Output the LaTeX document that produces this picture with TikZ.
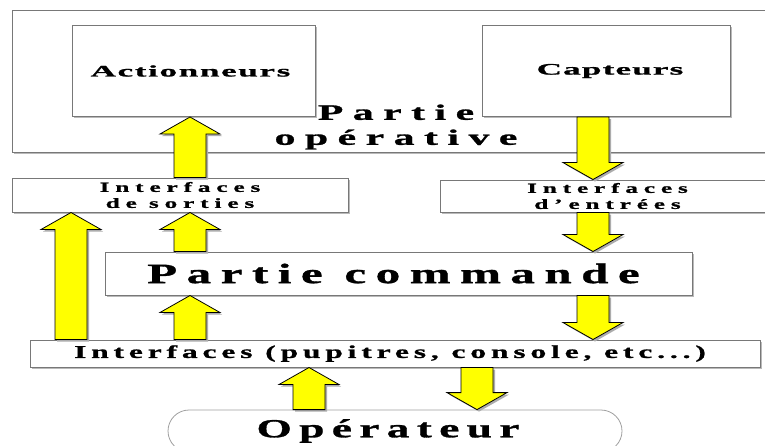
\documentclass[tikz,border=0pt]{standalone}
\usepackage{fontspec}
\setmainfont{Liberation Serif}
\usetikzlibrary{calc,shadows}
\definecolor{boxline}{RGB}{120,120,120}
\definecolor{shadowgray}{RGB}{185,185,185}
\definecolor{arrfill}{RGB}{255,255,0}
\definecolor{opline}{RGB}{160,160,160}
% size, baselineskip, letterspace, stretch
\newcommand{\txtset}[4]{\fontsize{#1}{#2}\selectfont\addfontfeatures{FakeStretch=#4,LetterSpace=#3,FakeBold=1.2}}
\newcommand{\fatpath}[4]{%
  \path[#4] let \p1=(#1), \p2=(#2), \p3=($(#2)!17pt!(#1)$) in
    ({\x1-16pt+#3},{\y1-#3}) -- ({\x1-16pt+#3},{\y3-#3}) -- ({\x1-30pt+#3},{\y3-#3})
    -- ({\x2+#3},{\y2-#3}) -- ({\x1+30pt+#3},{\y3-#3}) -- ({\x1+16pt+#3},{\y3-#3})
    -- ({\x1+16pt+#3},{\y1-#3}) -- cycle;}
\newcommand{\fatarr}[2]{\fatpath{#1}{#2}{2pt}{arrshadow}\fatpath{#1}{#2}{0pt}{arrbody}}
\begin{document}
\begin{tikzpicture}[x=1pt,y=-1pt,
  boxnode/.style={draw=boxline, line width=1pt, fill=white, inner sep=0pt,
    drop shadow={shadow xshift=1.5pt,shadow yshift=-1.5pt,fill=shadowgray,opacity=1}},
  lbl/.style={inner sep=0pt, align=center},
  arrbody/.style={fill=arrfill, draw=black, line width=0.8pt, line join=miter},
  arrshadow/.style={fill=gray!65},
]
\useasboundingbox[fill=white] (0,0) rectangle (765,445);

% Partie operative
\node[boxnode, minimum width=763pt, minimum height=142pt] (pop) at (393.5,81) {};
\node[boxnode, minimum width=243pt, minimum height=91pt, font={\bfseries\txtset{16}{20}{10}{2.2}}] (act) at (193.5,71) {\hspace*{-6pt}Actionneurs};
\node[boxnode, minimum width=248pt, minimum height=91pt, font={\bfseries\txtset{16}{20}{7}{2.2}}] (cap) at (606,71) {\hspace*{8pt}Capteurs};
\node[lbl, font={\bfseries\txtset{22}{25}{43}{1.9}}] (ptxt) at (396,127) {Partie\\opérative};

% interfaces
\node[boxnode, align=center, minimum width=336pt, minimum height=34pt, font={\bfseries\txtset{14}{16}{42}{1.8}}] (isor) at (180,195) {Interfaces\\de sorties};
\node[boxnode, align=center, minimum width=335pt, minimum height=32pt, font={\bfseries\txtset{14}{16}{42}{1.8}}] (ient) at (607.5,196) {Interfaces\\d'entrées};

% Partie commande
\node[boxnode, minimum width=587pt, minimum height=43pt, font={\bfseries\txtset{28}{30}{34}{1.75}}] (pcom) at (398.5,273.5) {\hspace*{-10pt}Partie commande};

% pupitres
\node[boxnode, minimum width=730pt, minimum height=27pt, font={\bfseries\txtset{18}{20}{27}{1.75}}] (ipup) at (395,353.5) {\hspace*{-10pt}Interfaces (pupitres, console, etc...)};

% operateur
\node[draw=opline, line width=0.8pt, fill=white, rounded corners=21pt, inner sep=0pt,
  minimum width=454pt, minimum height=42pt, font={\bfseries\txtset{26}{28}{28}{1.75}}] (oper) at (395,431) {\hspace*{-14pt}Opérateur};

% arrow columns
\coordinate (xa) at (190,0);
\coordinate (xb) at (593,0);
\coordinate (xc) at (71,0);
\coordinate (xd) at (309,0);
\coordinate (xe) at (477,0);

\fatarr{isor.north -| xa}{act.south -| xa}
\fatarr{cap.south -| xb}{ient.north -| xb}
\fatarr{ipup.north -| xc}{isor.south -| xc}
\fatarr{pcom.north -| xa}{isor.south -| xa}
\fatarr{ient.south -| xb}{pcom.north -| xb}
\fatarr{ipup.north -| xa}{pcom.south -| xa}
\fatarr{pcom.south -| xb}{ipup.north -| xb}
\fatarr{oper.north -| xd}{ipup.south -| xd}
\fatarr{ipup.south -| xe}{oper.north -| xe}
\end{tikzpicture}
\end{document}
